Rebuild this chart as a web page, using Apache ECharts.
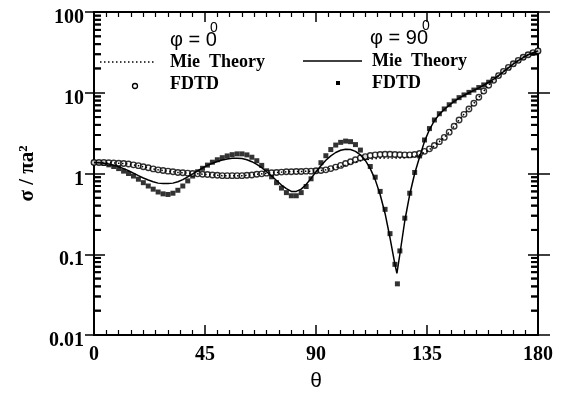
<!DOCTYPE html>
<html><head><meta charset="utf-8">
<script src="https://cdn.jsdelivr.net/npm/echarts@6/dist/echarts.min.js"></script>
<style>html,body{margin:0;padding:0;background:#fff}#c{width:565px;height:397px}</style>
</head><body><div id="c"></div>
<script>
// ---- tick positions ----
const xMajorTicks = [0, 45, 90, 135, 180];
const yMajorTicks = [0.01, 0.1, 1, 10, 100];
const yMinorTicks = [0.02,0.03,0.04,0.05,0.06,0.07,0.08,0.09,
  0.2,0.3,0.4,0.5,0.6,0.7,0.8,0.9, 2,3,4,5,6,7,8,9, 20,30,40,50,60,70,80,90];

// ---- angles (degrees) ----
const theta = [0,2,4,6,8,10,12,14,16,18,20,22,24,26,28,30,32,34,36,38,40,42,44,46,48,50,52,54,56,58,
  60,62,64,66,68,70,72,74,76,78,80,82,84,86,88,90,92,94,96,98,100,102,104,106,108,110,112,114,116,118,
  120,122,124,126,128,130,132,134,136,138,140,142,144,146,148,150,152,154,156,158,160,162,164,166,168,170,
  172,174,176,178,180];
const thetaFdtd90 = [0,2,4,6,8,10,12,14,16,18,20,22,24,26,28,30,32,34,36,38,40,42,44,46,48,50,52,54,56,58,
  60,62,64,66,68,70,72,74,76,78,80,82,84,86,88,90,92,94,96,98,100,102,104,106,108,110,112,114,116,118,
  120,122,123,124,126,128,130,132,134,136,138,140,142,144,146,148,150,152,154,156,158,160,162,164,166,168,170,
  172,174,176,178,180];
const thetaMie90 = [0,2,4,6,8,10,12,14,16,18,20,22,24,26,28,30,32,34,36,38,40,42,44,46,48,50,52,54,56,58,
  60,62,64,66,68,70,72,74,76,78,80,82,84,86,88,90,92,94,96,98,100,102,104,106,108,110,112,114,116,118,
  120,122,122.8,124,126,128,130,132,134,136,138,140,142,144,146,148,150,152,154,156,158,160,162,164,166,168,170,
  172,174,176,178,180];

// ---- phi = 0 ----
const fdtdPhi0 = [1.37,1.37,1.37,1.36,1.35,1.34,1.33,1.31,1.28,1.25,
  1.21,1.18,1.14,1.11,1.09,1.07,1.05,1.03,1.02,1.01,
  1.00,0.99,0.98,0.97,0.96,0.95,0.94,0.94,0.94,0.94,
  0.94,0.95,0.96,0.98,0.99,1.01,1.02,1.03,1.04,1.05,
  1.05,1.06,1.06,1.07,1.07,1.08,1.09,1.11,1.15,1.20,
  1.26,1.33,1.40,1.48,1.56,1.62,1.67,1.70,1.72,1.73,
  1.73,1.72,1.71,1.70,1.70,1.72,1.77,1.88,2.02,2.22,
  2.48,2.80,3.25,3.85,4.60,5.40,6.30,7.40,8.80,10.5,
  12.4,14.3,16.3,18.4,20.6,22.9,25.2,27.5,29.6,31.4,
  33];
const miePhi0 = [1.37,1.37,1.37,1.36,1.35,1.34,1.33,1.31,1.28,1.25,
  1.21,1.18,1.14,1.11,1.09,1.07,1.05,1.03,1.02,1.01,
  1.00,0.99,0.98,0.97,0.96,0.95,0.94,0.94,0.94,0.94,
  0.94,0.95,0.96,0.98,0.99,1.01,1.02,1.03,1.04,1.05,
  1.05,1.06,1.06,1.07,1.07,1.08,1.09,1.11,1.15,1.19,
  1.22,1.27,1.33,1.39,1.44,1.48,1.51,1.53,1.55,1.56,
  1.56,1.56,1.56,1.57,1.59,1.63,1.70,1.82,1.98,2.20,
  2.48,2.80,3.25,3.85,4.60,5.40,6.30,7.40,8.80,10.5,
  12.4,14.3,16.3,18.4,20.6,22.9,25.2,27.5,29.6,31.4,
  33];

// ---- phi = 90 ----
const fdtdPhi90 = [1.37,1.36,1.33,1.28,1.22,1.15,1.07,1.00,0.93,0.85,
  0.77,0.70,0.64,0.59,0.56,0.55,0.57,0.62,0.70,0.81,
  0.93,1.05,1.16,1.27,1.38,1.48,1.57,1.65,1.71,1.75,
  1.75,1.70,1.59,1.44,1.26,1.08,0.91,0.77,0.66,0.58,
  0.53,0.53,0.58,0.69,0.86,1.08,1.36,1.66,1.98,2.25,
  2.43,2.52,2.48,2.28,1.95,1.58,1.22,0.90,0.60,0.36,
  0.18,0.075,0.043,0.11,0.28,0.57,1.03,1.65,2.60,3.60,4.60,
  5.5,6.3,7.1,7.9,8.7,9.4,10.1,10.8,11.6,12.5,
  13.5,14.8,16.4,18.3,20.4,22.8,25.1,27.4,29.6,31.4,
  33];
const miePhi90 = [1.37,1.36,1.34,1.31,1.27,1.21,1.15,1.08,1.01,0.94,
  0.88,0.83,0.79,0.76,0.75,0.75,0.76,0.79,0.84,0.91,
  0.99,1.08,1.17,1.26,1.34,1.41,1.47,1.51,1.54,1.55,
  1.53,1.48,1.40,1.30,1.18,1.05,0.93,0.82,0.72,0.65,
  0.60,0.60,0.64,0.73,0.87,1.05,1.25,1.46,1.65,1.82,
  1.94,2.00,1.98,1.88,1.70,1.45,1.15,0.84,0.55,0.32,
  0.16,0.075,0.058,0.10,0.26,0.55,1.00,1.60,2.50,3.50,4.50,
  5.4,6.2,7.0,7.8,8.6,9.3,10.0,10.7,11.5,12.4,
  13.4,14.7,16.3,18.2,20.3,22.7,25.0,27.3,29.5,31.3,
  33];

const pairs = (xs, ys) => xs.map((x, i) => [x, ys[i]]);

const SERIF = '"Liberation Serif", "Times New Roman", serif';
const SANS = '"Liberation Sans", Arial, sans-serif';
const BLK = '#000';

function xAxisDef(pos, showLabel) {
  return {
    type: 'value', position: pos, min: 0, max: 180, interval: 45,
    axisLine: { show: true, onZero: false, lineStyle: { color: BLK, width: 2 } },
    axisTick: { show: true, inside: true, length: 10, lineStyle: { color: BLK, width: 1.5 } },
    minorTick: { show: true, splitNumber: 9, length: 5, lineStyle: { color: BLK, width: 1.2 } },
    splitLine: { show: false }, minorSplitLine: { show: false },
    axisLabel: { show: showLabel, margin: 10, verticalAlign: 'top',
      color: BLK, fontFamily: SERIF, fontWeight: 'bold', fontSize: 20 },
    name: showLabel ? 'θ' : '', nameLocation: 'middle', nameGap: 36,
    nameTextStyle: { color: BLK, fontFamily: SANS, fontSize: 21 }
  };
}
function yAxisDef(pos, opts) {
  return Object.assign({
    type: 'log', position: pos, min: 0.01, max: 100,
    axisLine: { show: true, onZero: false, lineStyle: { color: BLK, width: 2 } },
    axisTick: { show: false },
    minorTick: { show: false },
    splitLine: { show: false }, minorSplitLine: { show: false },
    axisLabel: { show: false }
  }, opts);
}

// minor logarithmic tick marks, placed through the y axis scale
function minorTickSeries(xEdge, dir) {
  return {
    type: 'custom', z: 30,
    data: yMinorTicks.map(v => [xEdge, v]),
    renderItem: (params, api) => {
      const p = api.coord([api.value(0), api.value(1)]);
      return { type: 'line', shape: { x1: p[0], y1: p[1], x2: p[0] + dir * 7, y2: p[1] },
        style: { stroke: BLK, lineWidth: 2 } };
    }
  };
}
function minorTickMarks(xEdge, dir) {
  return {
    type: 'scatter', silent: true, clip: false, z: 30,
    symbol: 'rect', symbolSize: [7, 2], symbolOffset: [dir * 3.5, 0],
    itemStyle: { color: BLK },
    data: yMinorTicks.map(v => [xEdge, v])
  };
}

const chart = echarts.init(document.getElementById('c'), null, { renderer: 'canvas' });
chart.setOption({
  animation: false,
  backgroundColor: '#fff',
  grid: { left: 94, right: 27, top: 12, bottom: 61, containLabel: false },
  xAxis: [xAxisDef('bottom', true), xAxisDef('top', false)],
  yAxis: [
    yAxisDef('left', {
      axisTick: { show: true, inside: true, length: 11, lineStyle: { color: BLK, width: 1.5 } },
      axisLabel: { show: true, margin: 10, verticalAlign: 'top', lineHeight: 12,
        color: BLK, fontFamily: SERIF, fontWeight: 'bold', fontSize: 20,
        formatter: v => String(v) },
      name: 'σ / πa²', nameLocation: 'middle', nameGap: 43,
      nameTextStyle: { color: BLK, fontFamily: SERIF, fontWeight: 'bold', fontSize: 21 }
    }),
    yAxisDef('left', {
      axisTick: { show: true, inside: false, length: 9, lineStyle: { color: BLK, width: 1.5 } }
    }),
    yAxisDef('right', {
      axisTick: { show: true, inside: true, length: 10, lineStyle: { color: BLK, width: 1.5 } }
    }),
    yAxisDef('right', {
      axisTick: { show: true, inside: false, length: 12, lineStyle: { color: BLK, width: 1.5 } }
    })
  ],
  series: [
    { name: 'FDTD φ=90', type: 'scatter', symbol: 'rect', symbolSize: 5,
      itemStyle: { color: BLK }, data: pairs(thetaFdtd90, fdtdPhi90), z: 2 },
    { name: 'FDTD φ=0', type: 'scatter', symbol: 'circle', symbolSize: 5.5,
      itemStyle: { color: '#fff', borderColor: BLK, borderWidth: 1.4 }, data: pairs(theta, fdtdPhi0), z: 3 },
    { name: 'Mie φ=0', type: 'line', showSymbol: false, symbol: 'none',
      lineStyle: { color: BLK, width: 1.5, type: [1.5, 2.5] }, data: pairs(theta, miePhi0), z: 4 },
    { name: 'Mie φ=90', type: 'line', showSymbol: false, symbol: 'none',
      lineStyle: { color: BLK, width: 1.5 }, data: pairs(thetaMie90, miePhi90), z: 5 },
    minorTickSeries(0, 1),
    minorTickSeries(180, -1),
    minorTickMarks(0, 1),
    minorTickMarks(180, -1)
  ],
  graphic: [
    // phi = 0 legend
    { type: 'text', x: 170, y: 40, style: { text: 'φ = 0', font: '20px ' + SANS, fill: BLK, textVerticalAlign: 'middle', verticalAlign: 'middle' } },
    { type: 'text', x: 210, y: 28, style: { text: '0', font: '14px ' + SANS, fill: BLK, textVerticalAlign: 'middle', verticalAlign: 'middle' } },
    { type: 'line', shape: { x1: 100, y1: 62, x2: 154, y2: 62 }, style: { stroke: BLK, lineWidth: 1.5, lineDash: [1.5, 2.5] } },
    { type: 'text', x: 170, y: 62, style: { text: 'Mie  Theory', font: 'bold 18px ' + SERIF, fill: BLK, textVerticalAlign: 'middle', verticalAlign: 'middle' } },
    { type: 'circle', shape: { cx: 135, cy: 86, r: 2.5 }, style: { fill: '#fff', stroke: BLK, lineWidth: 1.3 } },
    { type: 'text', x: 170, y: 84, style: { text: 'FDTD', font: 'bold 18px ' + SERIF, fill: BLK, textVerticalAlign: 'middle', verticalAlign: 'middle' } },
    // phi = 90 legend
    { type: 'text', x: 370, y: 38, style: { text: 'φ = 90', font: '20px ' + SANS, fill: BLK, textVerticalAlign: 'middle', verticalAlign: 'middle' } },
    { type: 'text', x: 422, y: 26, style: { text: '0', font: '14px ' + SANS, fill: BLK, textVerticalAlign: 'middle', verticalAlign: 'middle' } },
    { type: 'line', shape: { x1: 303, y1: 61, x2: 362, y2: 61 }, style: { stroke: BLK, lineWidth: 1.5 } },
    { type: 'text', x: 372, y: 61, style: { text: 'Mie  Theory', font: 'bold 18px ' + SERIF, fill: BLK, textVerticalAlign: 'middle', verticalAlign: 'middle' } },
    { type: 'rect', shape: { x: 336, y: 81, width: 4, height: 4 }, style: { fill: BLK } },
    { type: 'text', x: 372, y: 83, style: { text: 'FDTD', font: 'bold 18px ' + SERIF, fill: BLK, textVerticalAlign: 'middle', verticalAlign: 'middle' } }
  ]
});
</script>
</body></html>
